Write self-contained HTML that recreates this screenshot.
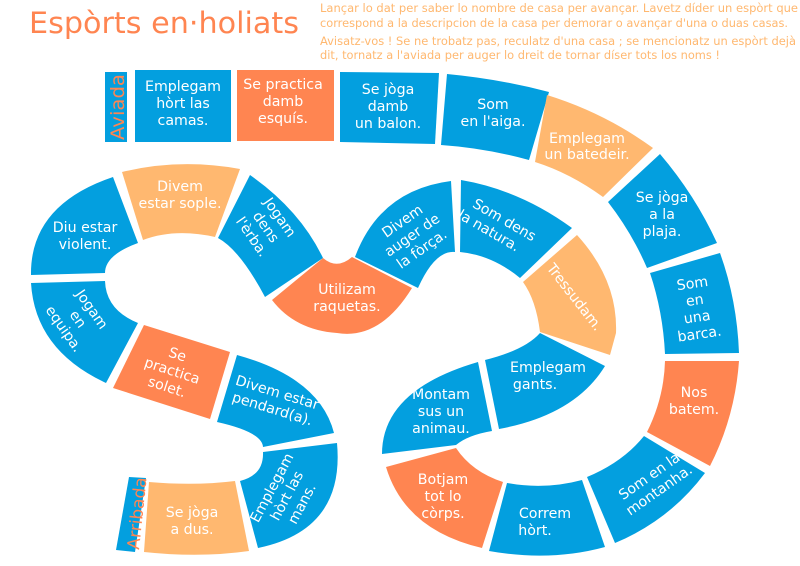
<!DOCTYPE html>
<html><head><meta charset="utf-8"><style>
html,body{margin:0;padding:0;background:#fff;}
svg{display:block;font-family:"DejaVu Sans","Liberation Sans",sans-serif;}
.b{fill:#039fdf}.o{fill:#ff8551}.l{fill:#ffb870}
.t{fill:#fff;font-size:14.2px;text-anchor:middle}
.h{fill:#ffb870;font-size:11.3px}
</style></head><body>
<svg width="800" height="566" viewBox="0 0 800 566" xmlns="http://www.w3.org/2000/svg">
<text x="29" y="33" fill="#ff8551" font-size="29" textLength="270" lengthAdjust="spacingAndGlyphs">Espòrts en·holiats</text>
<g class="h">
<text x="320" y="12" textLength="478" lengthAdjust="spacingAndGlyphs">Lançar lo dat per saber lo nombre de casa per avançar. Lavetz díder un espòrt  que</text>
<text x="320" y="27" textLength="468" lengthAdjust="spacingAndGlyphs">correspond a la descripcion de la casa per demorar o avançar d'una o duas casas.</text>
<text x="320" y="45" textLength="476" lengthAdjust="spacingAndGlyphs">Avisatz-vos ! Se ne trobatz pas, reculatz d'una casa ; se mencionatz un espòrt dejà</text>
<text x="320" y="59" textLength="400" lengthAdjust="spacingAndGlyphs">dit, tornatz a l'aviada per auger lo dreit de tornar díser tots los noms !</text>
</g>

<rect class="b" x="105" y="72" width="22" height="70"/>
<text transform="translate(124,140) rotate(-90)" fill="#ff8551" font-size="19" textLength="66" lengthAdjust="spacingAndGlyphs">Aviada</text>
<rect class="b" x="135" y="70" width="96" height="72"/>
<rect class="o" x="237" y="70" width="97" height="71"/>
<polygon class="b" points="340,72 439,73 435,144 340,142"/>
<path class="b" d="M447,74 Q500,79 549,92 L529,160 Q485,148 441,145 Z"/>
<path class="l" d="M547,95 Q605,113 653,148 L603,197 Q570,173 535,162 Z"/>
<path class="b" d="M660,154 Q695,195 717,243 L647,268 Q632,233 608,202 Z"/>
<path class="b" d="M720,253 Q737,300 739,353 L665,354 Q663,312 650,273 Z"/>
<path class="o" d="M665,361 L739,361 Q735,417 710,466 L647,432 Q664,398 665,361 Z"/>
<path class="b" d="M644,436 L705,473 Q670,520 615,543 L587,477 Q623,462 644,436 Z"/>
<path class="b" d="M582,480 L605,547 Q550,562 489,551 L507,483 Q545,490 582,480 Z"/>
<path class="o" d="M386,467 L456,448 Q472,472 503,482 L482,548 Q405,530 386,467 Z"/>
<path class="b" d="M382,454 Q382,390 478,362 L492,431 Q468,435 456,445 Z"/>
<path class="b" d="M485,360 Q525,350 540,333 L605,366 Q575,415 499,429 Z"/>
<path class="l" d="M523,282 L577,235 Q618,280 616,333 L610,355 L540,332 Q536,300 523,282 Z"/>
<path class="b" d="M461,180 Q520,190 572,228 L520,278 Q492,255 460,252 Z"/>
<path class="b" d="M355,257 Q380,190 451,181 L455,252 Q435,250 418,288 Z"/>
<path class="o" d="M272,300 L323,258 Q337,270 352,257 L412,288 Q380,340 337,333 Q295,330 272,300 Z"/>
<path class="b" d="M250,175 Q300,210 323,258 L265,297 Q240,250 218,238 Z"/>
<path class="l" d="M122,172 Q180,158 240,169 L215,237 Q175,228 143,240 Z"/>
<path class="b" d="M113,177 L138,243 Q105,255 105,273 L31,275 Q30,205 113,177 Z"/>
<path class="b" d="M31,283 L105,281 Q106,310 138,323 L106,383 Q35,350 31,283 Z"/>
<polygon class="o" points="144,325 230,352 210,419 113,388"/>
<path class="b" d="M237,355 Q320,378 334,433 L263,447 Q262,432 217,422 Z"/>
<path class="b" d="M263,452 L337,443 Q345,530 258,548 L240,481 Q264,475 263,452 Z"/>
<path class="l" d="M149,482 Q195,486 235,481 L249,551 Q200,558 144,552 Z"/>
<polygon class="b" points="129,477 146,478 135,552 116,550"/>
<text transform="translate(139,550) rotate(-84)" fill="#ff8551" font-size="17">Arribada</text>

<g class="t">
<text x="183" y="91">Emplegam<tspan x="183" dy="17">hòrt las</tspan><tspan x="183" dy="17">camas.</tspan></text>
<text x="283" y="89">Se practica<tspan x="283" dy="17">damb</tspan><tspan x="283" dy="17">esquís.</tspan></text>
<text x="388" y="94">Se jòga<tspan x="388" dy="17">damb</tspan><tspan x="388" dy="17">un balon.</tspan></text>
<text x="493" y="109">Som<tspan x="493" dy="17">en l'aiga.</tspan></text>
<text x="587" y="143">Emplegam<tspan x="587" dy="16">un batedeir.</tspan></text>
<text x="662" y="202">Se jòga<tspan x="662" dy="17">a la</tspan><tspan x="662" dy="17">plaja.</tspan></text>
<text transform="translate(693,288) rotate(-8)">Som<tspan x="0" dy="17">en</tspan><tspan x="0" dy="17">una</tspan><tspan x="0" dy="17">barca.</tspan></text>
<text x="694" y="397">Nos<tspan x="694" dy="17">batem.</tspan></text>
<text transform="translate(652,480) rotate(-35)">Som en la<tspan x="0" dy="17">montanha.</tspan></text>
<text x="545" y="518">Correm<tspan x="535" dy="17">hòrt.</tspan></text>
<text x="443" y="484">Botjam<tspan x="443" dy="17">tot lo</tspan><tspan x="443" dy="17">còrps.</tspan></text>
<text x="441" y="399">Montam<tspan x="441" dy="17">sus un</tspan><tspan x="441" dy="17">animau.</tspan></text>
<text x="548" y="372">Emplegam<tspan x="535" dy="17">gants.</tspan></text>
<text transform="translate(571,300) rotate(52)">Tressudam.</text>
<text transform="translate(502,224) rotate(30)">Som dens<tspan x="-8" dy="17">la natura.</tspan></text>
<text transform="translate(405,225) rotate(-35)">Divem<tspan x="0" dy="17">auger de</tspan><tspan x="0" dy="17">la fòrça.</tspan></text>
<text x="347" y="294">Utilizam<tspan x="347" dy="17">raquetas.</tspan></text>
<text transform="translate(276,220) rotate(55)">Jogam<tspan x="0" dy="17">dens</tspan><tspan x="0" dy="17">l'èrba.</tspan></text>
<text x="180" y="191">Divem<tspan x="180" dy="17">estar sople.</tspan></text>
<text x="85" y="232">Diu estar<tspan x="85" dy="17">violent.</tspan></text>
<text transform="translate(88,312) rotate(55)">Jogam<tspan x="0" dy="17">en</tspan><tspan x="0" dy="17">equipa.</tspan></text>
<text transform="translate(176,359) rotate(18)">Se<tspan x="0" dy="17">practica</tspan><tspan x="0" dy="17">solet.</tspan></text>
<text transform="translate(276,397) rotate(17)">Divem estar<tspan x="0" dy="17">pendard(a).</tspan></text>
<text transform="translate(276,490) rotate(-62)">Emplegam<tspan x="0" dy="17">hòrt las</tspan><tspan x="0" dy="17">mans.</tspan></text>
<text x="192" y="517">Se jòga<tspan x="192" dy="17">a dus.</tspan></text>
</g>
</svg>
</body></html>
